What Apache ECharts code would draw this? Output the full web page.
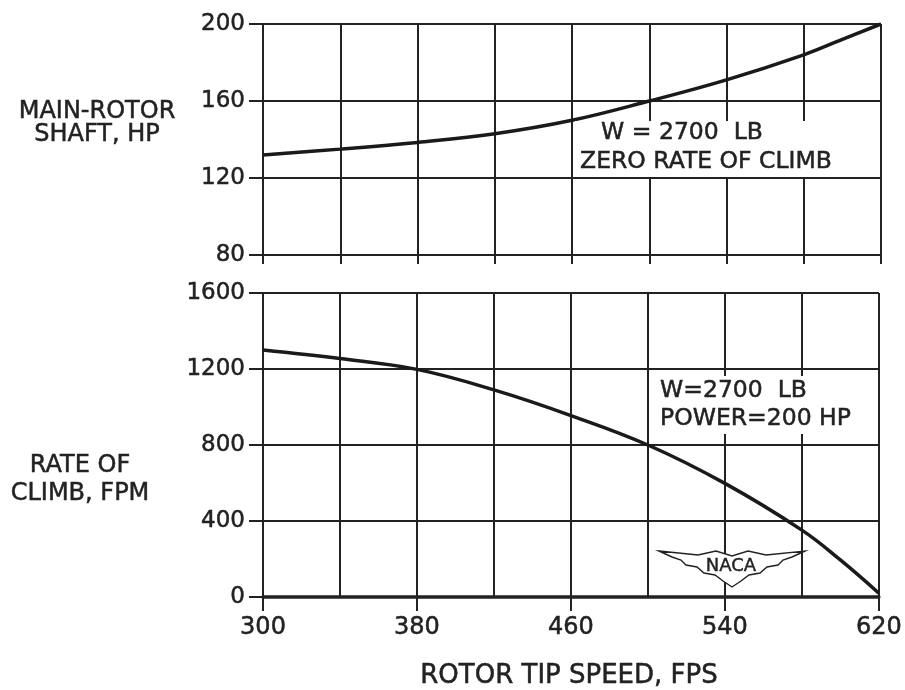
<!DOCTYPE html>
<html>
<head>
<meta charset="utf-8">
<script src="https://cdn.jsdelivr.net/npm/echarts@6/dist/echarts.min.js"></script>
<style>
html,body{margin:0;padding:0;background:#fff;}
#c{width:905px;height:690px;}
</style>
</head>
<body>
<div id="c"></div>
<script>
// Data
var tipSpeedTop = [300, 340, 380, 420, 460, 500, 540, 580, 600, 620];
var shaftHp     = [132, 135, 138.5, 143, 150, 160, 171, 184, 192, 200];
var tipSpeedBot = [300, 340, 380, 420, 460, 500, 540, 580, 600, 620];
var climbRate   = [1300, 1255, 1198, 1090, 955, 800, 598, 352, 195, 20];
var xTicks = [300, 380, 460, 540, 620];
var hpTicks = [80, 120, 160, 200];
var climbTicks = [0, 400, 800, 1200, 1600];

var INK = '#222';
var FONT = 'DejaVu Sans';

function pairs(xs, ys){ return xs.map(function(x,i){ return [x, ys[i]]; }); }

var gridLine = {color: INK, width: 2};

// top panel x axis: ticks every 40, no labels
var xTop = {
  type: 'value', gridIndex: 0, min: 300, max: 620, interval: 40,
  axisLine: {show: true, onZero: false, lineStyle: {color: INK, width: 2}},
  axisTick: {show: true, inside: false, length: 9, lineStyle: gridLine},
  axisLabel: {show: false},
  splitLine: {show: true, showMinLine: true, showMaxLine: true, lineStyle: gridLine}
};
// bottom panel x axis: labels & ticks at labelled values
var xBot = {
  type: 'value', gridIndex: 1, min: 300, max: 620, interval: 40,
  axisLine: {show: true, onZero: false, lineStyle: {color: INK, width: 3.5}},
  axisTick: {show: true, inside: false, length: 14, customValues: xTicks, lineStyle: gridLine},
  axisLabel: {show: true, margin: 19, color: INK, fontFamily: FONT, fontSize: 24,
    textBorderColor: INK, textBorderWidth: 0.5, customValues: xTicks,
    formatter: function(v){ return String(v); }},
  splitLine: {show: false}
};
// bottom panel vertical grid every 40
var xBotGrid = {
  type: 'value', gridIndex: 1, min: 300, max: 620, interval: 40,
  axisLine: {show: false}, axisTick: {show: false}, axisLabel: {show: false},
  splitLine: {show: true, showMinLine: true, showMaxLine: true, lineStyle: gridLine}
};

function yAxisCfg(grid, min, max, interval, ticks){
  return {
    type: 'value', gridIndex: grid, min: min, max: max, interval: interval,
    axisLine: {show: true, onZero: false, lineStyle: {color: INK, width: 2}},
    axisTick: {show: true, inside: false, length: 14, lineStyle: gridLine},
    axisLabel: {show: true, margin: 18, color: INK, fontFamily: FONT, fontSize: 23,
      textBorderColor: INK, textBorderWidth: 0.5,
      formatter: function(v){ return ticks.indexOf(v) >= 0 ? String(v) : ''; }},
    splitLine: {show: true, showMinLine: true, showMaxLine: true, lineStyle: gridLine}
  };
}

function label(x, y, txt, size, extra){
  var s = {text: txt, fill: INK, font: size + 'px "DejaVu Sans"', align: 'center', verticalAlign: 'middle',
           stroke: INK, lineWidth: 0.5};
  if (extra) for (var k in extra) s[k] = extra[k];
  return {type: 'text', x: x, y: y, z: 6, style: s};
}

var chart = echarts.init(document.getElementById('c'));
chart.setOption({
  backgroundColor: '#fff',
  animation: false,
  grid: [
    {left: 263, width: 618, top: 24, height: 231},
    {left: 263, width: 618, top: 293, height: 304}
  ],
  xAxis: [xTop, xBot, xBotGrid],
  yAxis: [yAxisCfg(0, 80, 200, 40, hpTicks), yAxisCfg(1, 0, 1600, 400, climbTicks)],
  series: [
    {type: 'line', xAxisIndex: 0, yAxisIndex: 0, data: pairs(tipSpeedTop, shaftHp),
     smooth: 0.4, symbol: 'none', lineStyle: {color: '#1a1a1a', width: 3.5}},
    {type: 'line', xAxisIndex: 1, yAxisIndex: 1, data: pairs(tipSpeedBot, climbRate),
     smooth: 0.4, symbol: 'none', lineStyle: {color: '#1a1a1a', width: 3.5}}
  ],
  graphic: [
    label(97, 112, 'MAIN-ROTOR', 24),
    label(97, 135, 'SHAFT, HP', 24),
    label(80, 466, 'RATE OF', 24),
    label(80, 494, 'CLIMB, FPM', 24),
    label(569, 676, 'ROTOR TIP SPEED, FPS', 26),
    {type: 'rect', left: 575, top: 121, shape: {width: 262, height: 56}, style: {fill: '#fff'}, z: 5},
    label(682, 133, 'W = 2700  LB', 23.5),
    label(706, 162, 'ZERO RATE OF CLIMB', 23.5),
    {type: 'rect', left: 655, top: 376, shape: {width: 205, height: 58}, style: {fill: '#fff'}, z: 5},
    label(660, 391, 'W=2700  LB', 23.5, {align: 'left'}),
    label(660, 419, 'POWER=200 HP', 23.5, {align: 'left'}),
    {type: 'polygon', z: 6, shape: {points: [
      [659,551],[698,555],[716,551],[732,556],[748,551],[766,555],[805,551],
      [792,557],[783,560],[778,565],[767,567],[760,573],[749,575],[741,581],[732,587],
      [723,581],[715,575],[704,573],[697,567],[686,565],[681,560],[672,557]
    ]}, style: {fill: '#fff', stroke: INK, lineWidth: 1.4}},
    {type: 'text', z: 7, x: 731, y: 566, style: {text: 'NACA', fill: INK, font: '18px "DejaVu Sans"',
      align: 'center', verticalAlign: 'middle', stroke: INK, lineWidth: 0.4}}
  ]
});
</script>
</body>
</html>
